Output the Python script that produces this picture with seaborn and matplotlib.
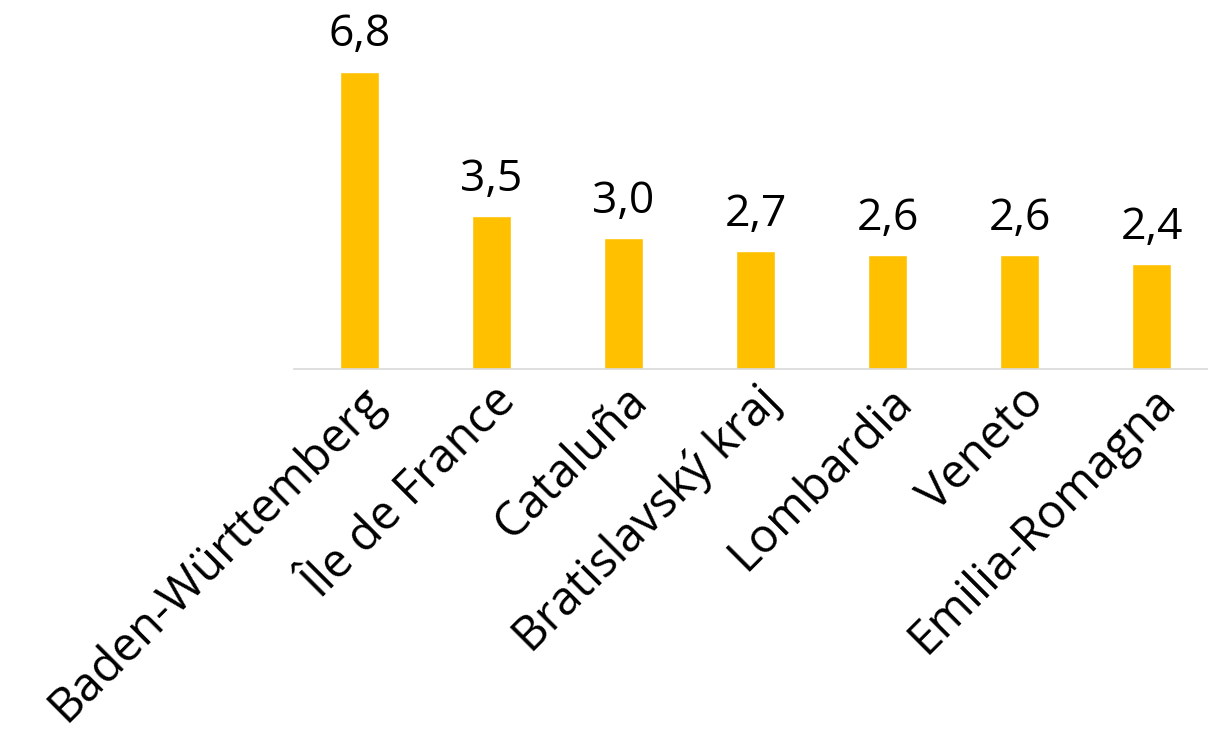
import matplotlib
matplotlib.use("Agg")
import matplotlib.pyplot as plt
import seaborn as sns
import pandas as pd

regions = ["Baden-Württemberg", "Île de France", "Cataluña", "Bratislavský kraj",
           "Lombardia", "Veneto", "Emilia-Romagna"]
values = [6.8, 3.5, 3.0, 2.7, 2.6, 2.6, 2.4]
value_labels = ["6,8", "3,5", "3,0", "2,7", "2,6", "2,6", "2,4"]

df = pd.DataFrame({"region": regions, "value": values})

sns.set_style("white")
plt.rcParams["font.family"] = ["Open Sans", "DejaVu Sans"]

fig = plt.figure(figsize=(12.08, 7.55), dpi=100)
ax = fig.add_axes([0.243, 0.511, 0.765, 0.489])

sns.barplot(data=df, x="region", y="value", color="#FFC000", width=0.3,
            saturation=1, ax=ax)

# value labels above bars
for i, (v, lab) in enumerate(zip(values, value_labels)):
    ax.text(i, v + 0.33, lab, ha="center", va="bottom", fontsize=32, color="black")

ax.set_ylim(0, 8.44)
ax.set_xlim(-0.5, 6.5)
ax.set_xlabel("")
ax.set_ylabel("")
ax.set_yticks([])
ax.tick_params(axis="x", length=0, pad=6)
ax.set_xticks(range(len(regions)))
ax.set_xticklabels(regions, rotation=45, ha="right", rotation_mode="anchor",
                   fontsize=34, color="black")

for s in ["top", "right", "left"]:
    ax.spines[s].set_visible(False)
ax.spines["bottom"].set_color("#D9D9D9")
ax.spines["bottom"].set_linewidth(1.2)

fig.savefig("out.png", dpi=100)
